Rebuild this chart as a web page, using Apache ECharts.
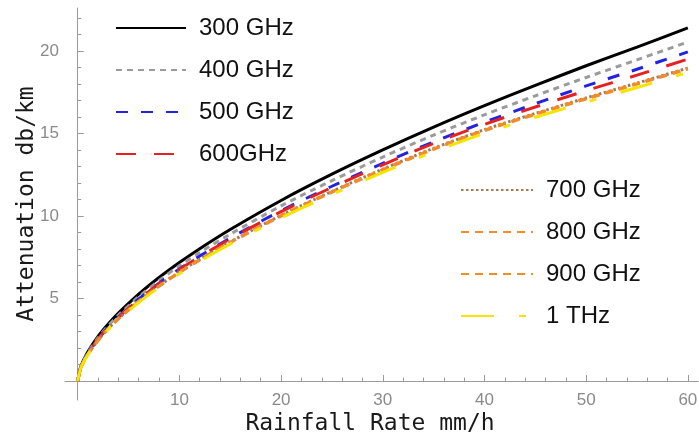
<!DOCTYPE html>
<html><head><meta charset="utf-8">
<script src="https://cdn.jsdelivr.net/npm/echarts@6/dist/echarts.min.js"></script>
<style>html,body{margin:0;padding:0;background:#fff}#c{width:699px;height:441px}</style>
</head><body><div id="c"></div><script>
// Rainfall rate (mm/h)
const rain = [0, 0.25, 0.5, 1, 2, 3, 4, 6, 8, 10, 12, 15, 20, 25, 30, 35, 40, 45, 50, 55, 60];
// Attenuation (dB/km)
const att300 = [0, 0.76, 1.16, 1.77, 2.70, 3.45, 4.11, 5.26, 6.27, 7.18, 8.02, 9.18, 10.94, 12.53, 14.00, 15.38, 16.68, 17.91, 19.10, 20.23, 21.40];
const att400 = [0, 0.74, 1.13, 1.72, 2.62, 3.35, 3.99, 5.11, 6.09, 6.98, 7.79, 8.90, 10.61, 12.14, 13.57, 14.90, 16.13, 17.28, 18.39, 19.46, 20.54];
const att500 = [0, 0.72, 1.10, 1.67, 2.55, 3.26, 3.88, 4.97, 5.93, 6.79, 7.57, 8.66, 10.32, 11.80, 13.19, 14.49, 15.68, 16.80, 17.88, 18.89, 19.94];
const att600 = [0, 0.71, 1.09, 1.66, 2.54, 3.24, 3.86, 4.94, 5.89, 6.75, 7.53, 8.61, 10.26, 11.73, 13.10, 14.40, 15.55, 16.60, 17.59, 18.53, 19.50];
const att700 = [0, 0.70, 1.07, 1.63, 2.48, 3.17, 3.78, 4.84, 5.77, 6.61, 7.37, 8.43, 10.04, 11.49, 12.84, 14.10, 15.23, 16.21, 17.15, 18.05, 18.96];
const att800 = [0, 0.70, 1.07, 1.62, 2.47, 3.16, 3.77, 4.83, 5.75, 6.59, 7.35, 8.41, 10.02, 11.46, 12.81, 14.07, 15.20, 16.18, 17.12, 18.02, 18.93];
const att900 = [0, 0.70, 1.06, 1.62, 2.46, 3.15, 3.76, 4.82, 5.74, 6.58, 7.33, 8.39, 9.99, 11.44, 12.78, 14.04, 15.17, 16.15, 17.09, 17.99, 18.90];
const att1000 = [0, 0.69, 1.05, 1.60, 2.44, 3.12, 3.72, 4.76, 5.67, 6.50, 7.26, 8.30, 9.89, 11.31, 12.64, 13.89, 15.01, 15.98, 16.90, 17.78, 18.70];

const names = ['300 GHz', '400 GHz', '500 GHz', '600GHz', '700 GHz', '800 GHz', '900 GHz', '1 THz'];
const values = [att300, att400, att500, att600, att700, att800, att900, att1000];

// Tick positions
const xMajorTicks = [10, 20, 30, 40, 50, 60];
const xMinorTicks = [2, 4, 6, 8, 12, 14, 16, 18, 22, 24, 26, 28, 32, 34, 36, 38, 42, 44, 46, 48, 52, 54, 56, 58];
const yMajorTicks = [5, 10, 15, 20];
const yMinorTicks = [1, 2, 3, 4, 6, 7, 8, 9, 11, 12, 13, 14, 16, 17, 18, 19, 21, 22];

const colors = ['#000000', '#9b9b9b', '#2323e0', '#e52222', '#a57a55', '#f08c2c', '#f08c2c', '#f5e400'];
const dashes = ['solid', [6, 5], [12, 13], [20, 18], [2.5, 2.5], [8, 6], [8, 6], [33, 25, 7, 25]];

const chart = echarts.init(document.getElementById('c'));
const series = names.map((n, i) => ({
  name: n,
  type: 'line',
  xAxisIndex: 0, yAxisIndex: 0,
  data: rain.map((r, j) => [r, values[i][j]]),
  symbol: 'none',
  smooth: 0.3,
  color: colors[i],
  lineStyle: { color: colors[i], width: 3, type: dashes[i] },
  z: 2 + i
}));

const axisCol = '#9a9a9a';
const labelStyle = { color: '#8a8a8a', fontSize: 17, fontFamily: 'Liberation Sans' };
const titleStyle = { color: '#1a1a1a', fontSize: 23, fontFamily: 'DejaVu Sans Mono' };
const legendText = { fontSize: 24, fontFamily: 'Liberation Sans', color: '#111', padding: [0, 0, 0, 8], lineHeight: 24 };

chart.setOption({
  animation: false,
  backgroundColor: '#fff',
  grid: { left: 65, right: 1, top: 8, bottom: 41, containLabel: false, outerBoundsMode: 'none' },
  legend: [
    {
      data: names.slice(0, 4), orient: 'vertical', left: 115, top: 16, padding: 0,
      itemWidth: 70, itemHeight: 1, itemGap: 18,
      textStyle: legendText, selectedMode: false
    },
    {
      data: names.slice(4), orient: 'vertical', left: 460, top: 178, padding: 0,
      itemWidth: 72, itemHeight: 1, itemGap: 18,
      textStyle: legendText, selectedMode: false
    }
  ],
  xAxis: [
    {
      type: 'value', min: -1.25, max: 61, position: 'bottom',
      axisLine: { onZero: true, lineStyle: { color: axisCol, width: 1 } },
      axisTick: { inside: true, length: 6, customValues: xMajorTicks, lineStyle: { color: axisCol } },
      axisLabel: { customValues: xMajorTicks, margin: -8, ...labelStyle },
      splitLine: { show: false },
      name: 'Rainfall Rate mm/h', nameLocation: 'middle', nameGap: 13, nameMoveOverlap: false,
      nameTextStyle: { ...titleStyle, padding: [0, 23, 0, 0] }
    },
    {
      type: 'value', min: -1.25, max: 61, position: 'bottom',
      axisLine: { show: false, onZero: true },
      axisTick: { inside: true, length: 3.5, customValues: xMinorTicks, lineStyle: { color: axisCol } },
      axisLabel: { show: false },
      splitLine: { show: false }
    }
  ],
  yAxis: [
    {
      type: 'value', min: -1.15, max: 22.6, position: 'left',
      axisLine: { show: true, onZero: true, lineStyle: { color: axisCol, width: 1 } },
      axisTick: { show: true, inside: true, length: 6, customValues: yMajorTicks, lineStyle: { color: axisCol } },
      axisLabel: { customValues: yMajorTicks, margin: 6, ...labelStyle },
      splitLine: { show: false },
      name: 'Attenuation db/km', nameLocation: 'middle', nameGap: 26, nameMoveOverlap: false,
      nameTextStyle: { ...titleStyle }
    },
    {
      type: 'value', min: -1.15, max: 22.6, position: 'left',
      axisLine: { show: false, onZero: true },
      axisTick: { show: true, inside: true, length: 3.5, customValues: yMinorTicks, lineStyle: { color: axisCol } },
      axisLabel: { show: false },
      splitLine: { show: false }
    }
  ],
  series: series
});
</script></body></html>
